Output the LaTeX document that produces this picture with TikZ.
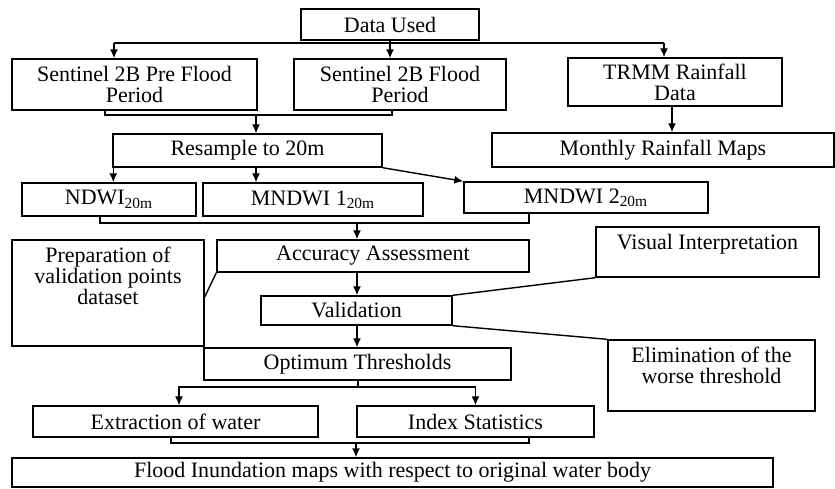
\documentclass[tikz,border=0pt]{standalone}
\usepackage{fontspec}
\setmainfont{Liberation Serif}
\usetikzlibrary{arrows.meta,positioning}
\begin{document}
    \begin{tikzpicture}[x=0.5pt,y=-0.5pt,line width=0.7pt,
        every node/.style={font=\fontsize{11}{10.5}\selectfont},
        box/.style 2 args={draw,align=center,inner sep=1pt,minimum width=#1,minimum height=#2},
        note/.style={align=center,inner sep=3.5pt},
        >={Latex[length=4.5pt,width=4pt]}]
        \useasboundingbox (0,0) rectangle (835,488);
        % boxes
        \node[box={89pt}{15.5pt}] (used) at (390,24.5) {Data Used};
        \node[box={122.5pt}{25.5pt}] (pre) at (134.5,84.5) {Sentinel 2B Pre Flood\\Period};
        \node[box={106pt}{25.5pt}] (flood) at (400,84.5) {Sentinel 2B Flood\\Period};
        \node[box={107pt}{24pt}] (trmm) at (675,82) {TRMM Rainfall\\Data};
        \node[box={171pt}{17pt}] (maps) at (663,150) {Monthly Rainfall Maps};
        \node[box={134.5pt}{16.5pt}] (resample) at (247.5,150.5) {Resample to 20m};
        \node[box={87pt}{16.5pt}] (ndwi) at (109,199.5) {NDWI\textsubscript{20m}};
        \node[box={110pt}{16.5pt}] (mndwiA) at (313,199.5) {MNDWI 1\textsubscript{20m}};
        \node[box={122pt}{15.5pt}] (mndwiB) at (586,197.5) {MNDWI 2\textsubscript{20m}};
        \node[box={96pt}{53pt}] (prep) at (108,293) {};
        \node[note,below=0pt of prep.north] (prepText) {Preparation of\\validation points\\dataset};
        \node[box={156pt}{16pt}] (acc) at (373,256) {Accuracy Assessment};
        \node[box={95.5pt}{14.5pt}] (valid) at (356.5,310.5) {Validation};
        \node[box={111.5pt}{25pt}] (visual) at (707.5,252) {};
        \node[note,below=0pt of visual.north] (visualText) {Visual Interpretation};
        \node[box={103.5pt}{35.5pt}] (elim) at (711.5,375.5) {};
        \node[note,below=0pt of elim.north] (elimText) {Elimination of the\\worse threshold};
        \node[box={153.5pt}{16pt}] (optim) at (357.5,364) {Optimum Thresholds};
        \node[box={142.5pt}{15.5pt}] (extract) at (175.5,421.5) {Extraction of water};
        \node[box={118.5pt}{15.5pt}] (index) at (475.5,421.5) {Index Statistics};
        \node[box={380.5pt}{14.5pt}] (result) at (392.5,472.5) {Flood Inundation maps with respect to original water body};
        % connectors
        \coordinate (fanL) at (114,43);
        \coordinate (fanR) at (664,43);
        \draw (used.south) -- (used.south |- fanL);
        \draw (fanL) -- (fanR);
        \draw[->] (fanL) -- (fanL |- pre.north);
        \draw[->] (used.south |- fanL) -- (used.south |- flood.north);
        \draw[->] (fanR) -- (fanR |- trmm.north);
        \draw[->] ([xshift=-1.5pt]trmm.south) -- ([xshift=-1.5pt]trmm.south |- maps.north);
        \coordinate (joinA) at (256,115);
        \draw ([xshift=-14.75pt]pre.south) |- (joinA) -| ([xshift=-4pt]flood.south);
        \draw[->] (joinA) -- (joinA |- resample.north);
        \draw[->] ([xshift=0.5pt]resample.south west) -- ([xshift=0.5pt]resample.south west |- ndwi.north);
        \draw[->] (joinA |- resample.south) -- (joinA |- mndwiA.north);
        \draw[->] (resample.south east) -- (mndwiB.north west);
        \coordinate (joinB) at (357,223);
        \draw ([xshift=-4.5pt]ndwi.south) |- (joinB) -| ([xshift=-28.5pt]mndwiB.south);
        \draw[->] (joinB) -- (joinB |- acc.north);
        \draw ([yshift=-2pt]prep.east) -- (acc.south west);
        \draw[->] (joinB |- acc.south) -- (joinB |- valid.north);
        \draw (valid.north east) -- (visual.south west);
        \draw (valid.south east) -- (elim.north west);
        \draw[->] (joinB |- valid.south) -- (joinB |- optim.north);
        \coordinate (fanC) at (358,387);
        \draw (fanC |- optim.south) -- (fanC);
        \draw[->] (fanC) -| ([xshift=1.75pt]extract.north);
        \draw[->] (fanC) -| (index.north);
        \coordinate (joinC) at (356,443);
        \draw ([xshift=-2.25pt]extract.south) |- (joinC) -| ([xshift=26.75pt]index.south);
        \draw[->] (joinC) -- (joinC |- result.north);
    \end{tikzpicture}
\end{document}
